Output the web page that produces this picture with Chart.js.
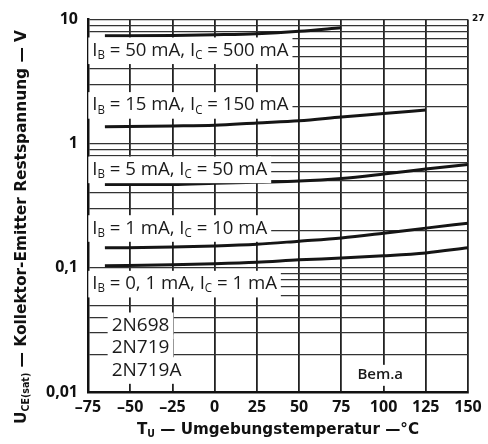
<!DOCTYPE html>
<html>
<head>
<meta charset="utf-8">
<script src="https://cdn.jsdelivr.net/npm/chart.js@4.4.0/dist/chart.umd.min.js"></script>
<style>
  html, body { margin: 0; padding: 0; background: #fff; }
  #wrap { width: 488px; height: 444px; }
</style>
</head>
<body>
<div id="wrap"><canvas id="chart" width="488" height="444"></canvas></div>
<script>
// Temperatures (°C) and U_CE(sat) readings (V) per curve
const temps = [-65, -25, 0, 25, 50, 75, 100, 125, 150];
const ib50 = [7.4, 7.45, 7.55, 7.7, 8.05, 8.6];
const ib15 = [1.37, 1.39, 1.41, 1.47, 1.53, 1.64, 1.75, 1.87];
const ib5 = [0.47, 0.47, 0.48, 0.49, 0.50, 0.525, 0.57, 0.625, 0.68];
const ib1 = [0.145, 0.147, 0.15, 0.155, 0.164, 0.174, 0.19, 0.209, 0.229];
const ib01 = [0.104, 0.106, 0.108, 0.111, 0.116, 0.12, 0.125, 0.132, 0.145];

const yGrid = [0.01, 0.02, 0.03, 0.04, 0.05, 0.06, 0.07, 0.08, 0.09,
  0.1, 0.2, 0.3, 0.4, 0.5, 0.6, 0.7, 0.8, 0.9,
  1, 2, 3, 4, 5, 6, 7, 8, 9, 10];
const yLabels = { 0.01: '0,01', 0.1: '0,1', 1: '1', 10: '10' };

const curveLabels = [
  'I_B = 50 mA, I_C = 500 mA',
  'I_B = 15 mA, I_C = 150 mA',
  'I_B = 5 mA, I_C = 50 mA',
  'I_B = 1 mA, I_C = 10 mA',
  'I_B = 0, 1 mA, I_C = 1 mA'
];
const typeLabels = ['2N698', '2N719', '2N719A'];

const toPoints = (ys) => ys.map((y, i) => ({ x: temps[i], y: y }));

// split "I_B" / "U_{CE(sat)}" into normal and subscript runs
function parseRich(str) {
  const parts = [];
  let i = 0, buf = '';
  while (i < str.length) {
    if (str[i] === '_') {
      if (buf) { parts.push({ t: buf, sub: false }); buf = ''; }
      if (str[i + 1] === '{') {
        const end = str.indexOf('}', i);
        parts.push({ t: str.slice(i + 2, end), sub: true });
        i = end + 1;
      } else {
        parts.push({ t: str[i + 1], sub: true });
        i += 2;
      }
    } else {
      buf += str[i];
      i++;
    }
  }
  if (buf) parts.push({ t: buf, sub: false });
  return parts;
}

function drawRich(ctx, str, x, y, size, weight, family, draw) {
  const parts = parseRich(str);
  let w = 0;
  parts.forEach(p => {
    const s = p.sub ? size * 0.62 : size;
    ctx.font = weight + ' ' + s + 'px ' + family;
    if (draw) ctx.fillText(p.t, x + w, p.sub ? y + size * 0.28 : y);
    w += ctx.measureText(p.t).width;
  });
  return w;
}

const annotations = {
  id: 'annotations',
  afterDatasetsDraw(chart) {
    const ctx = chart.ctx;
    const xs = chart.scales.x, ys = chart.scales.y;
    const fam = '"Open Sans", sans-serif';
    ctx.save();
    ctx.textBaseline = 'middle';
    ctx.fillStyle = '#111';

    const boxed = (str, xv, yv, size, squeeze, weight) => {
      const px = xs.getPixelForValue(xv), py = ys.getPixelForValue(yv);
      ctx.save();
      ctx.translate(px, py);
      ctx.scale(squeeze, 1);
      const w = drawRich(ctx, str, 0, 0, size, weight, fam, false);
      ctx.fillStyle = '#fff';
      ctx.fillRect(-4, -size * 0.68, w + 8, size * 1.4);
      ctx.fillStyle = '#1a1a1a';
      drawRich(ctx, str, 0, 0, size, weight, fam, true);
      ctx.restore();
    };

    const labelY = [5.65, 2.05, 0.62, 0.209, 0.0745];
    curveLabels.forEach((s, i) => boxed(s, -72.5, labelY[i], 19, 0.98, '500'));
    const typeY = [0.0344, 0.0229, 0.015];
    typeLabels.forEach((s, i) => boxed(s, -61, typeY[i], 19, 1.0, '500'));
    boxed('Bem.a', 84.5, 0.0137, 15, 1.0, '600');

    // axis titles
    ctx.fillStyle = '#111';
    const tfam = '"DejaVu Sans", sans-serif';
    const xt = 'T_U — Umgebungstemperatur —°C';
    ctx.save();
    const xw = drawRich(ctx, xt, 0, 0, 16, 'bold', tfam, false);
    ctx.translate(278, 430);
    ctx.scale(282 / xw, 1);
    drawRich(ctx, xt, -xw / 2, 0, 16, 'bold', tfam, true);
    ctx.restore();

    const yt = 'U_{CE(sat)} — Kollektor-Emitter Restspannung — V';
    ctx.save();
    const yw = drawRich(ctx, yt, 0, 0, 16, 'bold', tfam, false);
    ctx.translate(22, 227);
    ctx.rotate(-Math.PI / 2);
    ctx.scale(394 / yw, 1);
    drawRich(ctx, yt, -yw / 2, 0, 16, 'bold', tfam, true);
    ctx.restore();

    ctx.font = 'bold 9px "DejaVu Sans", sans-serif';
    ctx.fillText('27', 472, 19);
    ctx.restore();
  }
};

const curveStyle = {
  borderColor: '#151515',
  borderWidth: 3,
  pointRadius: 0,
  fill: false,
  tension: 0.4,
  cubicInterpolationMode: 'monotone'
};

new Chart(document.getElementById('chart'), {
  type: 'line',
  data: {
    datasets: [
      Object.assign({ data: toPoints(ib50) }, curveStyle),
      Object.assign({ data: toPoints(ib15) }, curveStyle),
      Object.assign({ data: toPoints(ib5) }, curveStyle),
      Object.assign({ data: toPoints(ib1) }, curveStyle),
      Object.assign({ data: toPoints(ib01) }, curveStyle)
    ]
  },
  options: {
    responsive: false,
    animation: false,
    devicePixelRatio: 1,
    layout: { padding: { left: 0, top: 17, right: 20, bottom: 0 } },
    plugins: { legend: { display: false }, tooltip: { enabled: false } },
    scales: {
      x: {
        type: 'linear',
        min: -75,
        max: 150,
        afterFit: (s) => { s.height = 52; },
        ticks: {
          stepSize: 25,
          padding: 6,
          color: '#111',
          font: { family: '"Open Sans", sans-serif', size: 16, weight: 'bold' },
          callback: (v) => (v < 0 ? '–' + Math.abs(v) : String(v))
        },
        grid: { color: '#222', lineWidth: 1.8, drawTicks: false },
        border: { display: true, color: '#111', width: 2.5 }
      },
      y: {
        type: 'logarithmic',
        min: 0.01,
        max: 10,
        afterFit: (s) => { s.width = 88; },
        afterBuildTicks: (s) => { s.ticks = yGrid.map(v => ({ value: v })); },
        ticks: {
          autoSkip: false,
          padding: 10,
          color: '#111',
          font: { family: '"Open Sans", sans-serif', size: 16, weight: 'bold' },
          callback: (v) => yLabels[v] || ''
        },
        grid: { color: '#333', lineWidth: 1.3, drawTicks: false },
        border: { display: true, color: '#111', width: 2.5 }
      }
    }
  },
  plugins: [annotations]
});
</script>
</body>
</html>
